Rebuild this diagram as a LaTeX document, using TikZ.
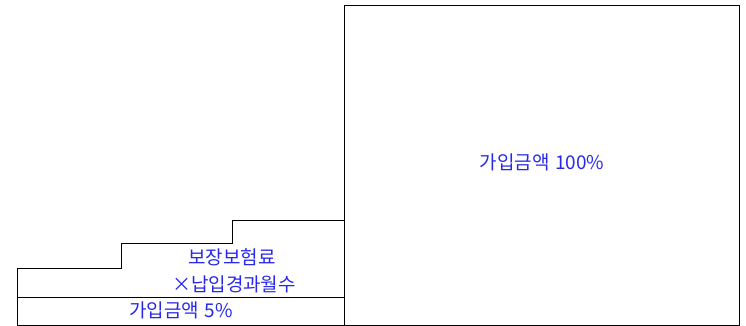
\documentclass[tikz,border=0pt]{standalone}
\usepackage{fontspec}
\setmainfont{Noto Sans CJK KR}
\definecolor{txtblue}{RGB}{40,40,235}
\begin{document}
\begin{tikzpicture}[x=1pt,y=-1pt,
  edge/.style={draw=black,line width=0.9pt},
  lbl/.style={text=txtblue,font=\fontsize{19}{22}\selectfont,inner sep=0pt,anchor=center}]
\useasboundingbox (0,0) rectangle (746,326);
% big box
\draw[edge] (344,5) rectangle (739,325);
% step shape
\draw[edge] (344,325) -- (17,325) -- (17,268) -- (121,268) -- (121,243.5) -- (232,243.5) -- (232,220) -- (344,220);
\draw[edge] (17,297) -- (344,297);
% labels
\node[lbl] (big) at (542,162) {가입금액\hspace{0.3em}100\%};
\node[lbl] (l1) at (232,257) {보장보험료};
\node[lbl] (l2) at (234,284) {×납입경과월수};
\node[lbl] (l3) at (181,310) {가입금액\hspace{0.3em}5\%};
\end{tikzpicture}
\end{document}
